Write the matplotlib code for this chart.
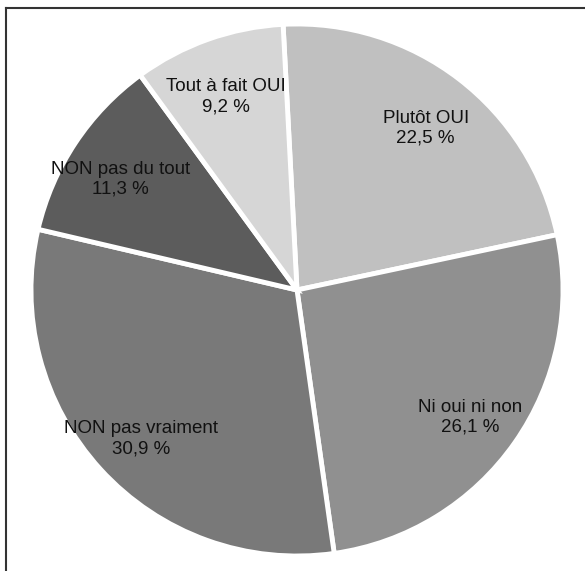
import matplotlib
matplotlib.use('Agg')
import matplotlib.pyplot as plt
from matplotlib.lines import Line2D

# Data (clockwise from the top)
categories = ['Plutôt OUI', 'Ni oui ni non', 'NON pas vraiment', 'NON pas du tout', 'Tout à fait OUI']
shares = [22.5, 26.1, 30.9, 11.3, 9.2]
colors = ['#c0c0c0', '#909090', '#797979', '#5c5c5c', '#d6d6d6']

labels = [f"{c}\n{str(v).replace('.', ',')} %" for c, v in zip(categories, shares)]

W, H = 585, 571
fig = plt.figure(figsize=(W / 100, H / 100), dpi=100)

# pie centre and radius in pixels
cx, cy, r = 297, 290, 266
ax = fig.add_axes([(cx - r) / W, (H - cy - r) / H, 2 * r / W, 2 * r / H])

wedges, texts = ax.pie(shares, labels=labels, colors=colors, startangle=93,
                       counterclock=False, labeldistance=0.795,
                       wedgeprops={'edgecolor': 'white', 'linewidth': 3.5},
                       textprops={'ha': 'center', 'va': 'center', 'fontsize': 13.5,
                                  'family': 'Liberation Sans', 'color': '#111111',
                                  'linespacing': 1.25})
# labels sit a few pixels lower in the original
for t in texts:
    x, y = t.get_position()
    t.set_position((x, y - 6 / r))

ax.set_xlim(-1, 1)
ax.set_ylim(-1, 1)
ax.set_aspect('equal')
ax.axis('off')

# frame: only top and left edges are visible in the picture
fig.add_artist(Line2D([6 / W, 1], [1 - 8 / H, 1 - 8 / H], color='#333333', lw=1.5))
fig.add_artist(Line2D([6 / W, 6 / W], [0, 1 - 8 / H], color='#333333', lw=1.5))

plt.savefig('out.png', dpi=100)
